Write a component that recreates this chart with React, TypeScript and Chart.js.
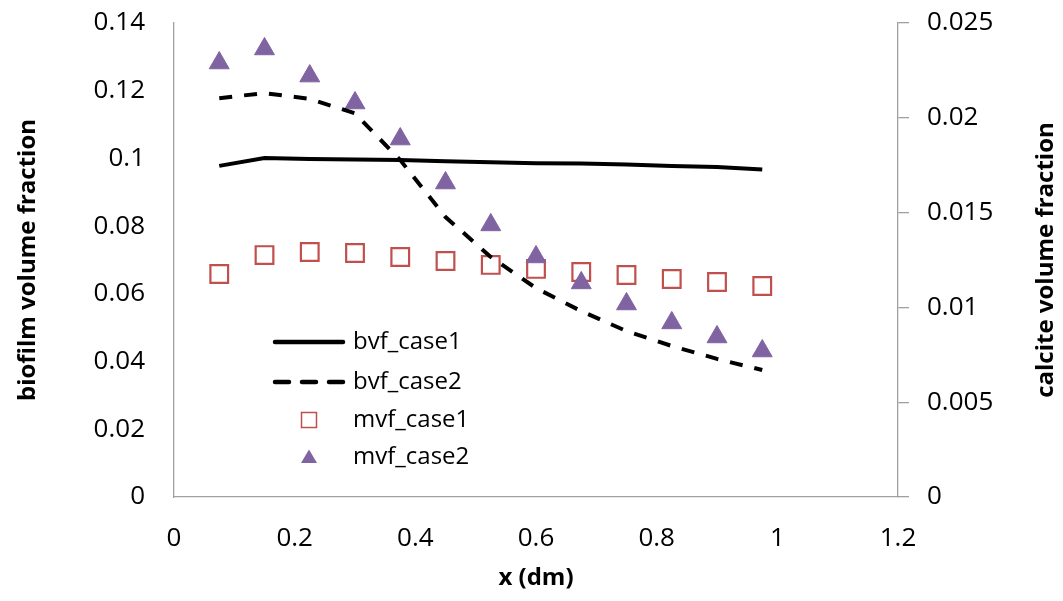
import React, { useEffect, useRef } from "react";
import { Chart, registerables } from "chart.js";

Chart.register(...registerables);

// ---------- data ----------
const xValues = [0.075, 0.15, 0.225, 0.3, 0.375, 0.45, 0.525, 0.6, 0.675, 0.75, 0.825, 0.9, 0.975];
const bvfCase1 = [0.0978, 0.1001, 0.0998, 0.0997, 0.0995, 0.0992, 0.0989, 0.0986, 0.0985, 0.0982, 0.0978, 0.0975, 0.0967];
const bvfCase2 = [0.1178, 0.1193, 0.1176, 0.1133, 0.0995, 0.0827, 0.0709, 0.0617, 0.0549, 0.049, 0.0446, 0.0408, 0.0375];
const mvfCase1 = [0.01176, 0.01276, 0.01292, 0.01287, 0.01266, 0.01245, 0.01224, 0.01203, 0.01187, 0.01171, 0.0115, 0.01134, 0.01113];
const mvfCase2 = [0.02289, 0.02363, 0.0222, 0.02078, 0.01888, 0.01656, 0.01435, 0.01266, 0.01129, 0.01018, 0.00918, 0.00844, 0.0077];

const seriesNames = ["bvf_case1", "bvf_case2", "mvf_case1", "mvf_case2"];
const xTickLabels = ["0", "0.2", "0.4", "0.6", "0.8", "1", "1.2"];
const leftTickLabels = ["0", "0.02", "0.04", "0.06", "0.08", "0.1", "0.12", "0.14"];
const rightTickLabels = ["0", "0.005", "0.01", "0.015", "0.02", "0.025"];
const xTitle = "x (dm)";
const leftTitle = "biofilm volume fraction";
const rightTitle = "calcite volume fraction";

// ---------- styles ----------
const FONT = "'Open Sans', 'Noto Sans', sans-serif";
const AXIS_COLOR = "#a0a0a0";
const SQUARE_COLOR = "#C0504D";
const TRIANGLE_COLOR = "#8064A2";
const DASH = [13, 12];

const toPts = (ys: number[]) => xValues.map((x, i) => ({ x, y: ys[i] }));

const labelFor = (labels: string[], step: number) => (value: any) => {
  const idx = Math.round(Number(value) / step);
  return labels[idx] ?? "";
};

const titlesPlugin = {
  id: "axisTitles",
  afterDraw(chart: any) {
    const { ctx, chartArea } = chart;
    const midY = (chartArea.top + chartArea.bottom) / 2;
    const midX = (chartArea.left + chartArea.right) / 2;
    ctx.save();
    ctx.fillStyle = "#000";
    ctx.font = `bold 24px ${FONT}`;
    ctx.textAlign = "center";
    ctx.textBaseline = "middle";
    // x title
    ctx.fillText(xTitle, midX, chartArea.bottom + 81);
    // left title (reads bottom to top)
    ctx.save();
    ctx.translate(28, midY);
    ctx.rotate(-Math.PI / 2);
    ctx.fillText(leftTitle, 0, 0);
    ctx.restore();
    // right title (reads bottom to top)
    ctx.save();
    ctx.translate(1046, midY);
    ctx.rotate(-Math.PI / 2);
    ctx.fillText(rightTitle, 0, 0);
    ctx.restore();
    ctx.restore();
  },
};

const legendPlugin = {
  id: "inlineLegend",
  afterDraw(chart: any) {
    const { ctx, chartArea } = chart;
    const lineStart = chartArea.left + 101;
    const lineEnd = lineStart + 68;
    const markerX = (lineStart + lineEnd) / 2;
    const textX = lineEnd + 10;
    const rowYs = [319, 359, 397, 434].map((d) => chartArea.top + d);
    ctx.save();
    ctx.font = `24px ${FONT}`;
    ctx.textAlign = "left";
    ctx.textBaseline = "middle";
    seriesNames.forEach((name, i) => {
      const y = rowYs[i];
      if (i === 0 || i === 1) {
        ctx.save();
        ctx.strokeStyle = "#000";
        ctx.lineWidth = 4.5;
        ctx.lineCap = "round";
        ctx.setLineDash(i === 1 ? [14, 13] : []);
        ctx.beginPath();
        ctx.moveTo(lineStart, y);
        ctx.lineTo(lineEnd, y);
        ctx.stroke();
        ctx.restore();
      } else if (i === 2) {
        ctx.save();
        ctx.strokeStyle = SQUARE_COLOR;
        ctx.lineWidth = 1.5;
        ctx.strokeRect(markerX - 7.5, y - 7.5, 15, 15);
        ctx.restore();
      } else {
        ctx.save();
        ctx.fillStyle = TRIANGLE_COLOR;
        ctx.beginPath();
        ctx.moveTo(markerX, y - 7.5);
        ctx.lineTo(markerX + 8, y + 6);
        ctx.lineTo(markerX - 8, y + 6);
        ctx.closePath();
        ctx.fill();
        ctx.restore();
      }
      ctx.fillStyle = "#000";
      ctx.fillText(name, textX, y);
    });
    ctx.restore();
  },
};

export default function App() {
  const canvasRef = useRef<HTMLCanvasElement | null>(null);

  useEffect(() => {
    if (!canvasRef.current) return;
    const tickFont = { family: FONT, size: 26 };
    const chart = new Chart(canvasRef.current, {
      type: "scatter",
      data: {
        datasets: [
          {
            label: seriesNames[0],
            data: toPts(bvfCase1),
            showLine: true,
            borderColor: "#000",
            backgroundColor: "#000",
            borderWidth: 4,
            pointRadius: 0,
            tension: 0,
            yAxisID: "y",
            order: 0,
          },
          {
            label: seriesNames[1],
            data: toPts(bvfCase2),
            showLine: true,
            borderColor: "#000",
            backgroundColor: "#000",
            borderWidth: 4,
            borderDash: DASH,
            pointRadius: 0,
            tension: 0,
            yAxisID: "y",
            order: 0,
          },
          {
            label: seriesNames[2],
            data: toPts(mvfCase1),
            showLine: false,
            pointStyle: "rect",
            pointRadius: 12.5,
            borderColor: SQUARE_COLOR,
            backgroundColor: "rgba(255,255,255,0)",
            borderWidth: 2.2,
            yAxisID: "y2",
            order: 2,
          },
          {
            label: seriesNames[3],
            data: toPts(mvfCase2),
            showLine: false,
            pointStyle: "triangle",
            pointRadius: 11.5,
            borderColor: TRIANGLE_COLOR,
            backgroundColor: TRIANGLE_COLOR,
            borderWidth: 1,
            yAxisID: "y2",
            order: 1,
          },
        ],
      },
      options: {
        animation: false,
        responsive: false,
        events: [],
        layout: { padding: { top: 23, left: 0, right: 0, bottom: 0 } },
        plugins: {
          legend: { display: false },
          tooltip: { enabled: false },
          title: { display: false },
        },
        scales: {
          x: {
            type: "linear",
            position: "bottom",
            min: 0,
            max: 1.2,
            ticks: {
              stepSize: 0.2,
              padding: 26,
              color: "#000",
              font: tickFont,
              maxRotation: 0,
              autoSkip: false,
              callback: labelFor(xTickLabels, 0.2),
            },
            grid: { display: true, drawOnChartArea: false, drawTicks: false },
            border: { display: true, color: AXIS_COLOR, width: 1.3 },
            afterFit: (s: any) => {
              s.height = 104;
              s.paddingLeft = 0;
              s.paddingRight = 0;
            },
          },
          y: {
            type: "linear",
            position: "left",
            min: 0,
            max: 0.14,
            ticks: {
              stepSize: 0.02,
              padding: 29,
              color: "#000",
              font: tickFont,
              autoSkip: false,
              callback: labelFor(leftTickLabels, 0.02),
            },
            grid: { display: true, drawOnChartArea: false, drawTicks: false },
            border: { display: true, color: AXIS_COLOR, width: 1.3 },
            afterFit: (s: any) => {
              s.width = 174;
              s.paddingTop = 0;
              s.paddingBottom = 0;
            },
          },
          y2: {
            type: "linear",
            position: "right",
            min: 0,
            max: 0.025,
            ticks: {
              stepSize: 0.005,
              padding: 18,
              color: "#000",
              font: tickFont,
              autoSkip: false,
              callback: labelFor(rightTickLabels, 0.005),
            },
            grid: {
              display: true,
              drawOnChartArea: false,
              drawTicks: true,
              tickLength: 11,
              color: AXIS_COLOR,
              lineWidth: 1.3,
            },
            border: { display: true, color: AXIS_COLOR, width: 1.3 },
            afterFit: (s: any) => {
              s.width = 165;
              s.paddingTop = 0;
              s.paddingBottom = 0;
            },
          },
        },
      },
      plugins: [titlesPlugin, legendPlugin],
    } as any);
    return () => chart.destroy();
  }, []);

  return (
    <div style={{ position: "absolute", left: 0, top: 0, width: 1063, height: 601, background: "#fff" }}>
      <canvas ref={canvasRef} width={1063} height={601} style={{ display: "block" }} />
    </div>
  );
}
